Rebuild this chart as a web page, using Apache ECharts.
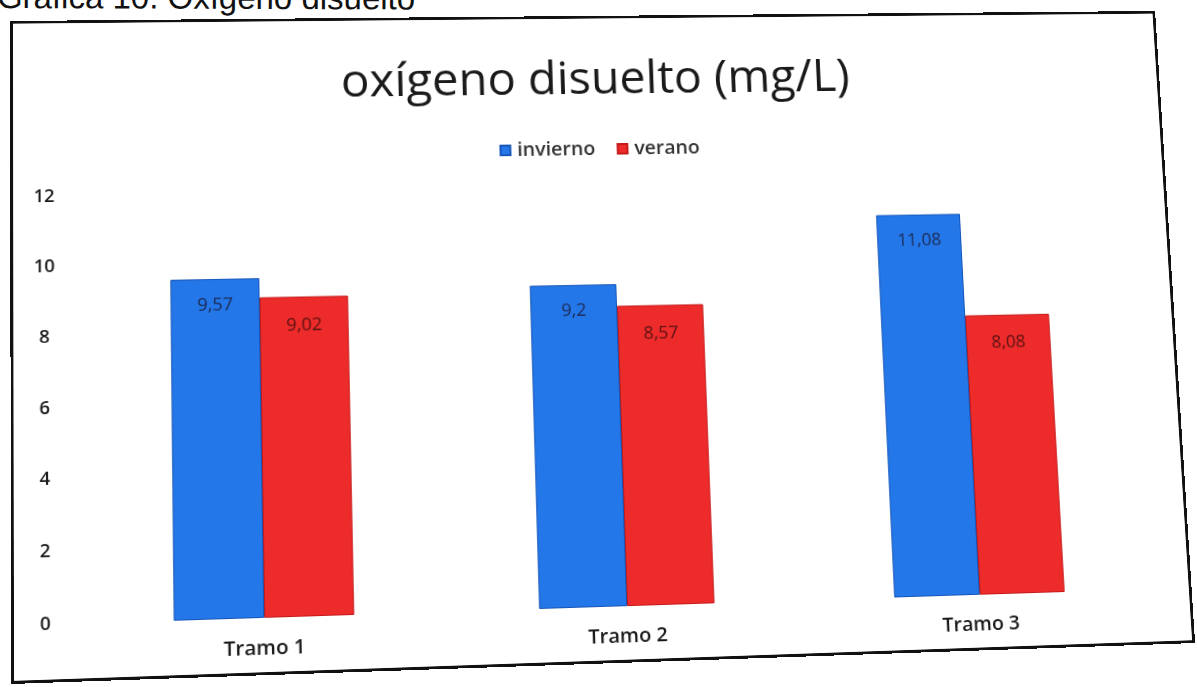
<!DOCTYPE html>
<html>
<head>
<meta charset="utf-8">
<script src="https://cdn.jsdelivr.net/npm/echarts@6/dist/echarts.min.js"></script>
<style>
  html, body { margin: 0; padding: 0; background: #fff; overflow: hidden; }
  body { width: 1197px; height: 687px; position: relative; }
  #caption {
    position: absolute; left: -3px; top: -20px; line-height: 1; white-space: nowrap;
    font-family: "Liberation Sans", Arial, sans-serif; font-size: 33px; color: #111;
    transform: rotate(0.2deg); transform-origin: left top;
  }
  #frame {
    position: absolute; left: 0; top: 0; width: 1180px; height: 662px;
    box-sizing: border-box; border: 3px solid #111; background: #fff;
    transform-origin: 0 0;
  }
  #chart { width: 1174px; height: 656px; }
</style>
</head>
<body>
<div id="caption">Gráfica 10. Oxígeno disuelto</div>
<div id="frame"><div id="chart"></div></div>
<script>
// Dissolved oxygen per river section, winter vs summer
const categories = ['Tramo 1', 'Tramo 2', 'Tramo 3'];
const invierno = [9.57, 9.2, 11.08];
const verano = [9.02, 8.57, 8.08];
const yTicks = [0, 2, 4, 6, 8, 10, 12];

// The printed sheet is slightly tilted: map the frame rectangle onto a
// quadrilateral with a projective (matrix3d) transform.
function solve(A, b) {
  const n = b.length;
  for (let i = 0; i < n; i++) {
    let p = i;
    for (let r = i + 1; r < n; r++) if (Math.abs(A[r][i]) > Math.abs(A[p][i])) p = r;
    [A[i], A[p]] = [A[p], A[i]]; [b[i], b[p]] = [b[p], b[i]];
    for (let r = i + 1; r < n; r++) {
      const f = A[r][i] / A[i][i];
      for (let c = i; c < n; c++) A[r][c] -= f * A[i][c];
      b[r] -= f * b[i];
    }
  }
  const x = new Array(n).fill(0);
  for (let i = n - 1; i >= 0; i--) {
    let s = b[i];
    for (let c = i + 1; c < n; c++) s -= A[i][c] * x[c];
    x[i] = s / A[i][i];
  }
  return x;
}
function quadTransform(w, h, dst) {
  const src = [[0, 0], [w, 0], [w, h], [0, h]];
  const A = [], b = [];
  for (let i = 0; i < 4; i++) {
    const [x, y] = src[i], [u, v] = dst[i];
    A.push([x, y, 1, 0, 0, 0, -u * x, -u * y]); b.push(u);
    A.push([0, 0, 0, x, y, 1, -v * x, -v * y]); b.push(v);
  }
  const [a, bb, c, d, e, f, g, hh] = solve(A, b);
  return `matrix3d(${a},${d},0,${g},${bb},${e},0,${hh},0,0,1,0,${c},${f},0,1)`;
}
const frame = document.getElementById('frame');
frame.style.transform = quadTransform(1180, 662, [[10, 21], [1155, 11], [1195, 643], [11, 684]]);

const fmt = v => String(v).replace('.', ',');

const chart = echarts.init(document.getElementById('chart'), null, { renderer: 'canvas' });
chart.setOption({
  animation: false,
  backgroundColor: '#fff',
  title: {
    text: 'oxígeno disuelto (mg/L)',
    left: 'center', top: 36,
    textStyle: { fontFamily: 'Open Sans', fontWeight: 'normal', fontSize: 48, color: '#1a1a1a' }
  },
  legend: {
    top: 122, left: 'center',
    itemWidth: 10, itemHeight: 10, itemGap: 22,
    icon: 'rect',
    textStyle: { fontFamily: 'Open Sans', fontSize: 20, fontWeight: 600, color: '#333', padding: [0, 0, 0, 2] },
    data: ['invierno', 'verano']
  },
  grid: { left: 62, right: 38, top: 178, bottom: 53 },
  xAxis: {
    type: 'category',
    data: categories,
    axisLine: { show: false },
    axisTick: { show: false },
    axisLabel: { margin: 20, fontFamily: 'Open Sans', fontSize: 20, fontWeight: 600, color: '#1a1a1a' }
  },
  yAxis: {
    type: 'value',
    min: yTicks[0], max: yTicks[yTicks.length - 1], interval: 2,
    axisLine: { show: false },
    axisTick: { show: false },
    splitLine: { show: false },
    axisLabel: { margin: 32, align: 'center', fontFamily: 'Open Sans', fontSize: 18, fontWeight: 600, color: '#1a1a1a' }
  },
  series: [
    {
      name: 'invierno', type: 'bar', data: invierno,
      barGap: '0%', barCategoryGap: '51%',
      itemStyle: { color: '#2477e8', borderColor: '#1655b8', borderWidth: 1 },
      label: {
        show: true, position: 'insideTop', distance: 18,
        formatter: p => fmt(p.value),
        fontFamily: 'Open Sans', fontSize: 18, color: '#1c2a55'
      }
    },
    {
      name: 'verano', type: 'bar', data: verano,
      itemStyle: { color: '#ee2b2b', borderColor: '#c41a1a', borderWidth: 1 },
      label: {
        show: true, position: 'insideTop', distance: 20,
        formatter: p => fmt(p.value),
        fontFamily: 'Open Sans', fontSize: 18, color: '#5a1212'
      }
    }
  ]
});
</script>
</body>
</html>
